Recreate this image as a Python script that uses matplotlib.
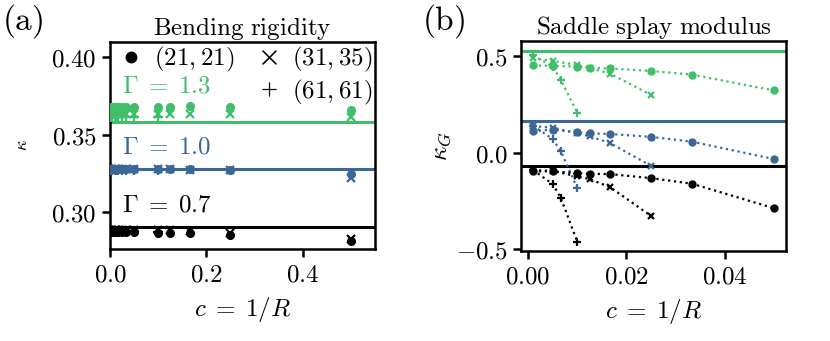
import matplotlib
matplotlib.use("Agg")
import matplotlib.pyplot as plt
from matplotlib.ticker import StrMethodFormatter, MultipleLocator
from matplotlib.lines import Line2D

plt.rcParams["mathtext.fontset"] = "cm"
plt.rcParams["font.size"] = 18

green = "#3fbf6a"
blue = "#3b6796"
black = "black"

# panel (a): bending rigidity vs curvature c = 1/R
c_a = [0.001, 0.005, 0.01, 0.0125, 1 / 60, 0.025, 1 / 30, 0.05, 0.1, 0.125, 1 / 6, 0.25, 0.5]
c_a_plus = [0.001, 0.005, 0.01, 0.0125, 1 / 60, 0.025, 1 / 30, 0.05, 0.1]

kap_g13_o = [0.368, 0.368, 0.368, 0.368, 0.368, 0.368, 0.368, 0.368, 0.368, 0.368, 0.3685, 0.3675, 0.3655]
kap_g13_x = [0.3635, 0.3635, 0.3635, 0.3635, 0.3635, 0.3635, 0.3635, 0.3635, 0.3635, 0.3635, 0.3635, 0.363, 0.3615]
kap_g13_p = [0.361, 0.361, 0.361, 0.361, 0.361, 0.361, 0.361, 0.361, 0.361]
kap_g10_o = [0.3278, 0.3278, 0.3278, 0.3278, 0.3278, 0.3278, 0.3278, 0.3278, 0.3278, 0.3278, 0.3277, 0.3272, 0.3245]
kap_g10_x = [0.3275, 0.3275, 0.3275, 0.3275, 0.3275, 0.3275, 0.3275, 0.3275, 0.3275, 0.3275, 0.3273, 0.3268, 0.322]
kap_g10_p = [0.327, 0.327, 0.327, 0.327, 0.327, 0.327, 0.327, 0.327, 0.327]
kap_g07_o = [0.2868, 0.2868, 0.2868, 0.2868, 0.2868, 0.2868, 0.2868, 0.2868, 0.2866, 0.2865, 0.2862, 0.285, 0.2813]
kap_g07_x = [0.2885, 0.2885, 0.2885, 0.2885, 0.2885, 0.2885, 0.2885, 0.2885, 0.2883, 0.2882, 0.2879, 0.2866, 0.2828]
kap_g07_p = [0.2875, 0.2875, 0.2875, 0.2875, 0.2875, 0.2875, 0.2875, 0.2875, 0.2873]
kap_ref = [0.358, 0.3275, 0.2905]

# panel (b): saddle splay modulus
c_b_o = [0.001, 0.005, 0.01, 0.0125, 1 / 60, 0.025, 1 / 30, 0.05]
c_b_x = [0.001, 0.005, 0.01, 0.0125, 1 / 60, 0.025]
c_b_p = [0.001, 0.005, 1 / 150, 0.01]

kg_g13_o = [0.453, 0.45, 0.447, 0.44, 0.437, 0.424, 0.405, 0.323]
kg_g13_x = [0.49, 0.476, 0.455, 0.44, 0.41, 0.30]
kg_g13_p = [0.505, 0.446, 0.377, 0.207]
kg_g10_o = [0.111, 0.12, 0.106, 0.10, 0.097, 0.082, 0.057, -0.033]
kg_g10_x = [0.137, 0.13, 0.10, 0.085, 0.05, -0.068]
kg_g10_p = [0.14, 0.071, 0.007, -0.184]
kg_g07_o = [-0.097, -0.097, -0.106, -0.11, -0.111, -0.132, -0.161, -0.288]
kg_g07_x = [-0.09, -0.095, -0.123, -0.137, -0.179, -0.328]
kg_g07_p = [-0.09, -0.163, -0.236, -0.462]
kg_ref = [0.53, 0.167, -0.068]

gammas = ["1.3", "1.0", "0.7"]
colors = [green, blue, black]

fig = plt.figure(figsize=(8.3, 3.41), dpi=100)
ax1 = fig.add_axes([0.1325, 0.2698, 0.3193, 0.607])
ax2 = fig.add_axes([0.6277, 0.264, 0.3193, 0.616])

ms = 5.5
mew = 1.6

# (a)
series_a = [(kap_g13_o, kap_g13_x, kap_g13_p),
            (kap_g10_o, kap_g10_x, kap_g10_p),
            (kap_g07_o, kap_g07_x, kap_g07_p)]
for (yo, yx, yp), col, ref in zip(series_a, colors, kap_ref):
    ax1.axhline(ref, color=col, lw=2.2, zorder=1)
    ax1.plot(c_a, yo, "o", color=col, ms=ms, zorder=3)
    ax1.plot(c_a, yx, "x", color=col, ms=ms, mew=mew, zorder=3)
    ax1.plot(c_a_plus, yp, "+", color=col, ms=ms + 1, mew=mew, zorder=3)

ax1.set_xlim(0, 0.55)
ax1.set_ylim(0.2761, 0.4097)
ax1.xaxis.set_major_locator(MultipleLocator(0.2))
ax1.yaxis.set_major_locator(MultipleLocator(0.05))
ax1.xaxis.set_major_formatter(StrMethodFormatter("${x:.1f}$"))
ax1.yaxis.set_major_formatter(StrMethodFormatter("${x:.2f}$"))
ax1.set_xlabel(r"$c\;=\;1/R$", labelpad=6)
ax1.set_ylabel(r"$\kappa$", fontsize=13, labelpad=15)
ax1.set_title(r"$\mathrm{Bending\ rigidity}$", fontsize=18, pad=5)

for g, col, yf in zip(gammas, colors, [0.792, 0.493, 0.213]):
    ax1.text(0.045, yf, r"$\Gamma\;=\;" + g + "$", color=col, transform=ax1.transAxes,
             va="center", ha="left", fontsize=18)

blank = Line2D([], [], linestyle="none", marker="none")
h_o = Line2D([], [], linestyle="none", marker="o", color="black", ms=7.5)
h_x = Line2D([], [], linestyle="none", marker=r"$\times$", color="black", ms=10, mew=0.3)
h_p = Line2D([], [], linestyle="none", marker=r"$+$", color="black", ms=10, mew=0.3)
ax1.legend([h_o, blank, h_x, h_p], [r"$(21,21)$", "", r"$(31,35)$", r"$(61,61)$"],
           ncol=2, loc="upper right", frameon=False, handlelength=0.8,
           handletextpad=0.5, columnspacing=1.0, borderaxespad=0.0,
           borderpad=0.12, labelspacing=0.14, fontsize=18)

# (b)
series_b = [(kg_g13_o, kg_g13_x, kg_g13_p),
            (kg_g10_o, kg_g10_x, kg_g10_p),
            (kg_g07_o, kg_g07_x, kg_g07_p)]
for (yo, yx, yp), col, ref in zip(series_b, colors, kg_ref):
    ax2.axhline(ref, color=col, lw=2.2, zorder=1)
    ax2.plot(c_b_o, yo, "o:", color=col, ms=ms - 0.5, lw=1.6, zorder=3)
    ax2.plot(c_b_x, yx, "x:", color=col, ms=ms - 0.5, mew=mew, lw=1.6, zorder=3)
    ax2.plot(c_b_p, yp, "+:", color=col, ms=ms + 0.5, mew=mew, lw=1.6, zorder=3)

ax2.set_xlim(-0.00145, 0.05245)
ax2.set_ylim(-0.51, 0.58)
ax2.xaxis.set_major_locator(MultipleLocator(0.02))
ax2.yaxis.set_major_locator(MultipleLocator(0.5))
ax2.xaxis.set_major_formatter(StrMethodFormatter("${x:.2f}$"))
ax2.yaxis.set_major_formatter(StrMethodFormatter("${x:.1f}$"))
ax2.set_xlabel(r"$c\;=\;1/R$", labelpad=6)
ax2.set_ylabel(r"$\kappa_G$", fontsize=18, labelpad=2)
ax2.set_title(r"$\mathrm{Saddle\ splay\ modulus}$", fontsize=18, pad=5)

for ax in (ax1, ax2):
    for s in ax.spines.values():
        s.set_linewidth(1.8)
    ax.tick_params(width=1.8, length=6, labelsize=18)

fig.text(0.002, 0.995, r"$\mathrm{(a)}$", fontsize=24, va="top", ha="left")
fig.text(0.508, 0.995, r"$\mathrm{(b)}$", fontsize=24, va="top", ha="left")

fig.savefig("out.png", dpi=100)
